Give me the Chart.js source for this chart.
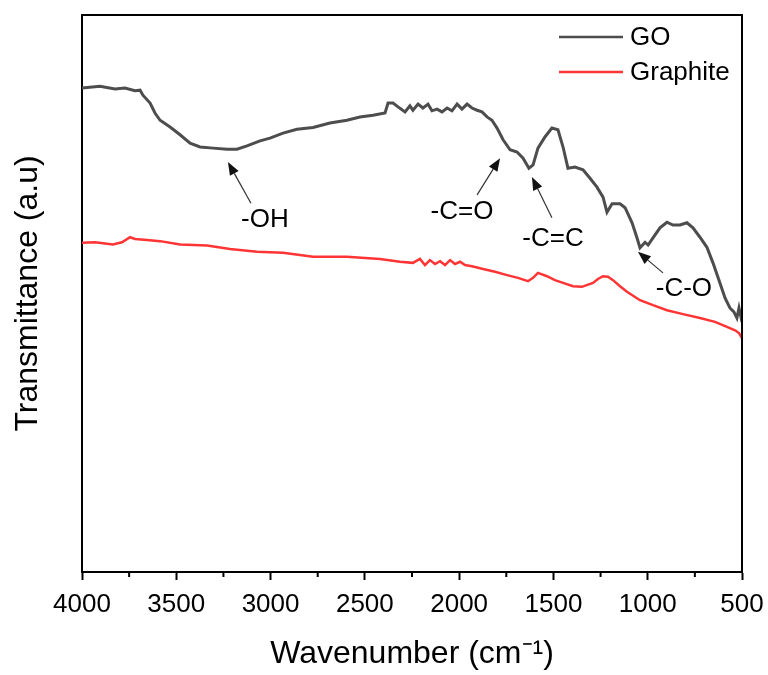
<!DOCTYPE html>
<html>
<head>
<meta charset="utf-8">
<script src="https://cdn.jsdelivr.net/npm/chart.js@4.4.1/dist/chart.umd.min.js"></script>
<style>
  html, body { margin: 0; padding: 0; background: #fff; }
  #wrap { width: 768px; height: 675px; position: relative; }
</style>
</head>
<body>
<div id="wrap"><canvas id="c"></canvas></div>
<script>
// ---- Data ----
const goWavenumber = [4000,3905,3825,3772,3719,3692,3677,3639,3613,3586,3533,3480,3427,3374,3305,3231,3178,3125,3056,3003,2934,2860,2775,2685,2595,2526,2457,2393,2377,2351,2324,2287,2261,2245,2218,2192,2165,2144,2117,2091,2064,2038,2011,1985,1958,1932,1905,1879,1852,1826,1799,1767,1730,1693,1661,1630,1608,1582,1545,1508,1476,1449,1423,1386,1343,1306,1269,1237,1216,1189,1147,1120,1083,1057,1041,1014,998,972,935,898,866,829,792,760,723,686,654,617,590,564,543,527,516,500];
const goTransmittance = [86.9,87.2,86.7,86.9,86.4,86.5,85.6,84.2,82.4,81.1,79.9,78.5,77.0,76.3,76.1,75.9,75.9,76.5,77.4,77.9,78.8,79.5,79.8,80.6,81.1,81.7,82.0,82.4,84.2,84.2,83.5,82.6,83.7,82.9,84.0,83.3,84.0,82.8,83.1,82.6,83.3,82.8,84.0,83.1,84.0,83.3,82.9,82.6,81.7,81.1,79.7,77.6,75.8,75.4,74.3,72.5,73.1,76.1,78.1,79.7,79.4,76.3,72.5,72.7,72.2,70.7,69.1,67.3,64.6,66.1,66.1,65.4,62.7,60.0,58.2,59.2,58.7,60.0,61.8,62.8,62.3,62.3,62.7,61.8,60.1,58.3,55.5,51.9,49.2,47.4,46.7,45.6,47.4,44.9];

const graphiteWavenumber = [4000,3931,3836,3788,3745,3719,3655,3586,3480,3337,3215,3072,2934,2775,2595,2420,2314,2245,2208,2181,2155,2128,2101,2075,2048,2022,1995,1969,1932,1873,1810,1746,1688,1635,1608,1582,1534,1492,1449,1396,1349,1290,1264,1237,1211,1184,1147,1110,1041,972,898,813,723,643,580,537,516,500];
const graphiteTransmittance = [59.1,59.2,58.8,59.2,60.1,59.8,59.6,59.4,58.8,58.6,58.0,57.5,57.3,56.6,56.6,56.2,55.7,55.5,56.2,55.1,56.0,55.3,55.8,55.1,56.0,55.3,55.7,55.1,54.9,54.4,53.9,53.3,52.8,52.2,52.8,53.7,53.1,52.4,51.9,51.3,51.2,51.9,52.6,53.1,53.0,52.4,51.3,50.3,48.8,47.9,47.0,46.3,45.6,44.9,44.0,43.4,42.9,42.0];

const seriesNames = ['GO', 'Graphite'];
const xTitle = 'Wavenumber (cm\u207B\u00B9)';
const yTitle = 'Transmittance (a.u)';
const minorTickValues = [3750,3250,2750,2250,1750,1250,750];

// Peak annotations: label, arrow tip (x,y), arrow tail (x,y), label position (x,y)
const peakLabels = ['-OH', '-C=O', '-C=C', '-C-O'];
const peakTipX = [3226, 1783, 1614, 1052];
const peakTipY = [73.6, 74.3, 70.9, 57.5];
const peakTailX = [3104, 1905, 1508, 919];
const peakTailY = [66.2, 67.7, 63.6, 53.7];
const peakTextX = [3030, 1985, 1502, 808];
const peakTextY = [63.2, 64.6, 59.8, 50.8];

const FONT = "'Liberation Sans', Arial, sans-serif";
const seriesColors = ['#4d4d4d', '#ff3535'];

function toPoints(xs, ys) { return xs.map((x, i) => ({ x: x, y: ys[i] })); }

const extras = {
  id: 'extras',
  afterDraw(chart) {
    const ctx = chart.ctx;
    const a = chart.chartArea;
    const xs = chart.scales.x, ys = chart.scales.y;
    ctx.save();
    // frame top & right
    ctx.strokeStyle = '#000';
    ctx.lineWidth = 2;
    ctx.beginPath();
    ctx.moveTo(a.left, a.top);
    ctx.lineTo(a.right, a.top);
    ctx.lineTo(a.right, a.bottom);
    ctx.stroke();
    // minor ticks
    ctx.beginPath();
    minorTickValues.forEach(v => {
      const px = xs.getPixelForValue(v);
      ctx.moveTo(px, a.bottom);
      ctx.lineTo(px, a.bottom + 5);
    });
    ctx.stroke();
    // legend
    ctx.font = '26px ' + FONT;
    ctx.textBaseline = 'middle';
    ctx.textAlign = 'left';
    const legY = [37, 72];
    seriesNames.forEach((n, i) => {
      ctx.strokeStyle = seriesColors[i];
      ctx.lineWidth = 2.5;
      ctx.beginPath();
      ctx.moveTo(559, legY[i]);
      ctx.lineTo(623, legY[i]);
      ctx.stroke();
      ctx.fillStyle = '#000';
      ctx.fillText(n, 630, legY[i] + 1);
    });
    // peak annotations
    peakLabels.forEach((lab, i) => {
      const tx = xs.getPixelForValue(peakTipX[i]), ty = ys.getPixelForValue(peakTipY[i]);
      const sx = xs.getPixelForValue(peakTailX[i]), sy = ys.getPixelForValue(peakTailY[i]);
      const ang = Math.atan2(ty - sy, tx - sx);
      const hl = 13, hw = 5;
      const bx = tx - hl * Math.cos(ang), by = ty - hl * Math.sin(ang);
      ctx.strokeStyle = '#333';
      ctx.lineWidth = 1.2;
      ctx.beginPath();
      ctx.moveTo(sx, sy);
      ctx.lineTo(bx, by);
      ctx.stroke();
      ctx.fillStyle = '#111';
      ctx.beginPath();
      ctx.moveTo(tx, ty);
      ctx.lineTo(bx + hw * Math.sin(ang), by - hw * Math.cos(ang));
      ctx.lineTo(bx - hw * Math.sin(ang), by + hw * Math.cos(ang));
      ctx.closePath();
      ctx.fill();
      ctx.fillStyle = '#000';
      ctx.textAlign = 'center';
      ctx.font = '26px ' + FONT;
      ctx.fillText(lab, xs.getPixelForValue(peakTextX[i]), ys.getPixelForValue(peakTextY[i]));
    });
    ctx.restore();
  }
};

new Chart(document.getElementById('c'), {
  type: 'line',
  data: {
    datasets: [
      { label: seriesNames[0], data: toPoints(goWavenumber, goTransmittance), borderColor: seriesColors[0], borderWidth: 3, pointRadius: 0, tension: 0, fill: false },
      { label: seriesNames[1], data: toPoints(graphiteWavenumber, graphiteTransmittance), borderColor: seriesColors[1], borderWidth: 2.5, pointRadius: 0, tension: 0, fill: false }
    ]
  },
  options: {
    responsive: true,
    maintainAspectRatio: false,
    animation: false,
    layout: { padding: { top: 15, right: 26, left: 0, bottom: 0 } },
    plugins: { legend: { display: false }, tooltip: { enabled: false } },
    scales: {
      x: {
        type: 'linear',
        min: 500, max: 4000, reverse: true,
        ticks: { stepSize: 500, color: '#000', font: { family: FONT, size: 26 }, padding: 9, maxRotation: 0, autoSkip: false, callback: v => String(v) },
        grid: { display: true, drawOnChartArea: false, drawTicks: true, tickLength: 8, tickColor: '#000', tickWidth: 2 },
        border: { display: true, color: '#000', width: 2 },
        title: { display: true, text: xTitle, color: '#000', font: { family: FONT, size: 32 }, padding: { top: 0, bottom: 2 } },
        afterFit(s) { s.height = 103; s.paddingLeft = 0; s.paddingRight = 0; }
      },
      y: {
        min: 0, max: 100,
        ticks: { display: false },
        grid: { display: false, drawTicks: false },
        border: { display: true, color: '#000', width: 2 },
        title: { display: true, text: yTitle, color: '#000', font: { family: FONT, size: 32 }, padding: { top: 9, bottom: 0 } },
        afterFit(s) { s.width = 82; s.paddingTop = 0; s.paddingBottom = 0; }
      }
    }
  },
  plugins: [extras]
});
</script>
</body>
</html>
